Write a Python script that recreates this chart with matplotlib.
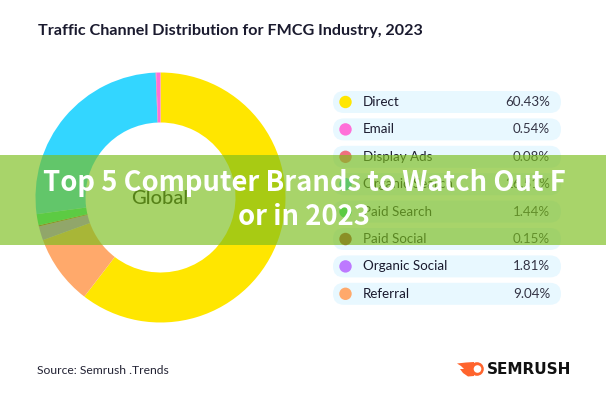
import matplotlib
matplotlib.use("Agg")
import matplotlib.pyplot as plt
from matplotlib.patches import FancyBboxPatch, Circle, Polygon, Rectangle

title = "Traffic Channel Distribution for FMCG Industry, 2023"
banner_lines = ["Top 5 Computer Brands to Watch Out F", "or in 2023"]
source = "Source: Semrush .Trends"
center_label = "Global"
channels = ["Direct", "Email", "Display Ads", "Organic Search", "Paid Search",
            "Paid Social", "Organic Social", "Referral"]
shares = [60.43, 0.54, 0.08, 26.51, 1.44, 0.15, 1.81, 9.04]
colors = ["#FFE600", "#FF6FD8", "#F0707F", "#33D6FF", "#22E48C",
          "#A8383A", "#BD79FF", "#FFA96B"]
# clockwise order of the ring, starting at twelve o'clock
ring_order = ["Direct", "Referral", "Organic Social", "Paid Social", "Paid Search",
              "Organic Search", "Display Ads", "Email"]

W, H = 606, 400
fig = plt.figure(figsize=(W / 100, H / 100), dpi=100, facecolor="white")
FONT = "Lato"

# donut
cx, cy, R = 160.5, 197.5, 125
ax = fig.add_axes([(cx - R) / W, 1 - (cy + R) / H, 2 * R / W, 2 * R / H])
idx = [channels.index(n) for n in ring_order]
ax.pie([shares[i] for i in idx], colors=[colors[i] for i in idx], startangle=90,
       counterclock=False, radius=1, wedgeprops=dict(width=0.4, linewidth=0))
ax.set_xlim(-1, 1)
ax.set_ylim(-1, 1)
ax.set_aspect("equal")
ax.axis("off")

# overlay in pixel coordinates
ov = fig.add_axes([0, 0, 1, 1], facecolor="none")
ov.set_xlim(0, W)
ov.set_ylim(H, 0)
ov.axis("off")

ov.text(38, 31, title, fontsize=11.65, fontweight="bold", family=FONT, color="#1A1A2E",
        va="center", ha="left")
ov.text(160, 198, center_label, fontsize=14.5, family=FONT, color="#111111",
        va="center", ha="center", fontweight="medium")

# legend pills
row_y0, row_step = 102, 27.4
for i, (name, val, col) in enumerate(zip(channels, shares, colors)):
    y = row_y0 + i * row_step
    ov.add_patch(FancyBboxPatch((333, y - 11), 228, 22,
                                boxstyle="round,pad=0,rounding_size=11",
                                fc="#E8F8FF", ec="none", zorder=1))
    ov.add_patch(Circle((345.5, y), 6.2, fc=col, ec="none", zorder=2))
    ov.text(363, y, name, fontsize=9.6, family=FONT, color="#1A1A2E", va="center", zorder=2)
    ov.text(550, y, f"{val:.2f}%", fontsize=9.6, family=FONT, color="#333344",
            va="center", ha="right", zorder=2)

# source + brand
ov.text(37, 370, source, fontsize=8.75, family=FONT, color="#222233", va="center")
ov.add_patch(Polygon([(457, 363.5), (466, 362.5), (474, 362), (474, 376), (468, 376.5),
                      (463, 373), (460, 369), (464, 369), (461, 366)],
                     fc="#FF642D", ec="none", zorder=3))
ov.add_patch(Circle((477, 369), 6.8, fc="#FF642D", ec="none", zorder=3))
ov.add_patch(Circle((477.5, 369), 3.8, fc="white", ec="none", zorder=4))
ov.text(487, 369.3, "SEMRUSH", fontsize=10.95, fontweight="bold", family="DejaVu Sans",
        color="#111111", va="center", ha="left")

# banner
ov.add_patch(Rectangle((0, 155), W, 90, fc="#7BBE1D", alpha=0.66, ec="none", zorder=10))
for line, y in zip(banner_lines, (183, 217)):
    ov.text(W / 2 + 1, y, line, fontsize=19.7, fontweight="bold", color="white",
            family="Noto Sans CJK SC", ha="center", va="center", zorder=11)

fig.savefig("out.png", dpi=100, facecolor="white")
